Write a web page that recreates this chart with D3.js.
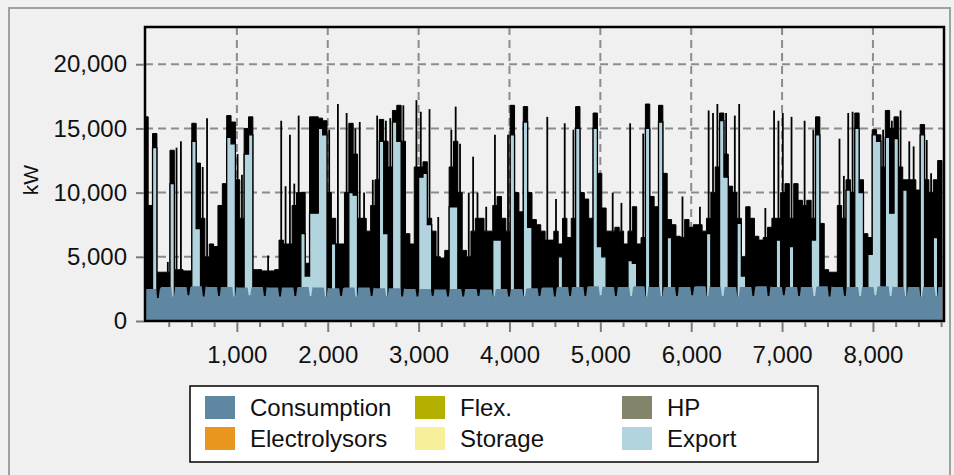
<!DOCTYPE html>
<html>
<head>
<meta charset="utf-8">
<script src="https://cdn.jsdelivr.net/npm/d3@7"></script>
<style>
  body { margin: 0; background: #f0f0f0; }
  svg { display: block; font-family: "Liberation Sans", Arial, sans-serif; }
</style>
</head>
<body>
<svg id="chart" width="954" height="475"></svg>
<script>
// one reading every 2 days (48 h) over the 8760 hours of the year
const STEP_HOURS = 48;

// highest hourly total (consumption + export) in each 2 days, kW
const exportPeak = [
  15900, 9000, 14600, 3800, 3800, 4600, 13300, 13500, 14000, 3900,
  3900, 15400, 12300, 12000, 15800, 6000, 5800, 9000, 10700, 16000,
  15500, 13000, 11400, 15000, 15900, 4000, 4000, 3900, 5100, 3900,
  4000, 15600, 10500, 14500, 10700, 16000, 10000, 4500, 15900, 15900,
  15800, 15600, 14900, 8000, 16900, 6000, 16200, 15400, 15000, 15500,
  10000, 7000, 11000, 16000, 15700, 15600, 15800, 16400, 16800, 16800,
  6800, 6000, 17200, 16300, 12400, 16500, 7000, 8100, 4900, 5500,
  14900, 16700, 13800, 5500, 10000, 12800, 10000, 8000, 8900, 7000,
  14500, 9700, 8000, 14500, 16800, 10000, 8500, 16700, 10000, 7900,
  7500, 7000, 15900, 6300, 9500, 6000, 15400, 6500, 14900, 16700,
  10000, 9500, 8000, 16200, 11500, 8800, 7000, 10000, 7300, 9200,
  6000, 15400, 8900, 6000, 14600, 16900, 9700, 8900, 16800, 11500,
  7900, 7500, 6600, 9700, 7900, 7300, 7500, 8900, 7000, 16400,
  16200, 16900, 16200, 16200, 10500, 16000, 16900, 5000, 8900, 8000,
  6600, 6300, 8800, 7300, 16400, 15600, 16200, 10700, 15900, 10700,
  9400, 15600, 9400, 14900, 15900, 7600, 4000, 3800, 3800, 14200,
  11300, 16200, 16300, 16200, 11000, 6800, 6500, 14900, 14500, 14900,
  16400, 15600, 15900, 16400, 11000, 14000, 13600, 10200, 15300, 14100,
  11500, 11000, 12500
];

// top of the dense daily swing (solid black mass), kW
const exportBand = [
  15900, 9000, 14600, 3800, 3800, 3800, 13300, 4000, 4000, 3900,
  3900, 15400, 12300, 8000, 5000, 6000, 5800, 9000, 10700, 16000,
  15500, 11000, 8000, 15000, 15900, 4000, 4000, 3900, 3900, 3900,
  4000, 6300, 6000, 6000, 9000, 10000, 10000, 4500, 15900, 15900,
  15800, 15600, 10000, 8000, 6000, 6000, 10000, 15400, 13000, 8000,
  8000, 7000, 9000, 11000, 15700, 14000, 12000, 16400, 16800, 14000,
  6800, 6000, 12000, 12000, 12400, 8000, 7000, 5000, 4900, 5500,
  12000, 14000, 10000, 5500, 5000, 7000, 8000, 8000, 7000, 7000,
  9000, 9700, 8000, 7000, 16800, 10000, 8500, 16700, 10000, 7900,
  7500, 7000, 6300, 6300, 7000, 6000, 8000, 6500, 8000, 16700,
  10000, 9500, 8000, 16200, 11500, 8800, 7000, 7000, 7300, 7000,
  6000, 7000, 8900, 6000, 6500, 16900, 9700, 8900, 16800, 11500,
  7900, 7500, 6600, 6500, 7900, 7300, 7500, 7500, 7000, 8000,
  10000, 12000, 16200, 13000, 10500, 10000, 8000, 5000, 8900, 8000,
  6600, 6300, 6500, 7300, 8000, 8000, 10000, 10700, 8000, 10700,
  9400, 9000, 9400, 8000, 15900, 7600, 4000, 3800, 3800, 9000,
  8000, 11000, 10000, 16200, 11000, 6800, 6500, 14900, 14500, 12000,
  16400, 15000, 15900, 12000, 11000, 11000, 11000, 10200, 15300, 11000,
  10000, 11000, 12500
];

// level held for the whole 2 days (export fill visible below it), kW; 0 = line drops to consumption
const exportLow = [
  0, 0, 13500, 0, 0, 0, 10700, 0, 0, 0,
  0, 14000, 7200, 0, 0, 0, 0, 0, 0, 14300,
  13800, 0, 0, 13000, 14500, 0, 0, 0, 0, 0,
  0, 0, 0, 0, 0, 0, 6800, 3500, 8400, 8400,
  15000, 14500, 0, 6000, 0, 0, 0, 10000, 9800, 0,
  0, 0, 0, 0, 14000, 6800, 0, 15500, 14000, 0,
  0, 0, 0, 11200, 11500, 7500, 0, 0, 0, 0,
  8900, 8900, 0, 0, 0, 0, 0, 0, 0, 0,
  6300, 6300, 0, 0, 14500, 0, 0, 15500, 7300, 0,
  0, 0, 0, 0, 0, 5000, 0, 0, 0, 15000,
  0, 0, 0, 15000, 5800, 5000, 0, 0, 0, 0,
  0, 4700, 4500, 0, 0, 15000, 0, 0, 15500, 0,
  6500, 0, 0, 0, 0, 0, 0, 0, 0, 6800,
  0, 0, 15600, 11200, 0, 0, 7600, 3500, 0, 0,
  0, 0, 0, 0, 0, 6300, 0, 0, 5800, 0,
  0, 0, 0, 6300, 14500, 0, 0, 0, 0, 0,
  0, 10200, 0, 15000, 10000, 0, 5200, 14500, 14000, 0,
  14300, 8400, 14200, 0, 10200, 0, 0, 0, 14500, 0,
  0, 6500, 0
];

// consumption per week, kW (working days and weekend dip)
const consWeekday = [
  2500, 2650, 2650, 2700, 2650, 2650, 2600, 2650, 2600, 2600,
  2650, 2600, 2550, 2600, 2600, 2550, 2550, 2500, 2500, 2450,
  2500, 2500, 2450, 2500, 2500, 2550, 2600, 2650, 2650, 2700,
  2650, 2650, 2700, 2650, 2650, 2650, 2700, 2650, 2650, 2650,
  2700, 2650, 2650, 2650, 2700, 2650, 2650, 2650, 2700, 2650,
  2650, 2650, 2650
];
const consWeekend = [
  1800, 1900, 2000, 1900, 1950, 1900, 2000, 1950, 1900, 1950,
  1950, 1900, 1950, 1900, 1950, 1950, 1900, 1900, 1950, 1900,
  1900, 1950, 1900, 1900, 1950, 1950, 1900, 1950, 1950, 2000,
  1950, 1950, 1900, 1950, 1950, 2000, 1950, 1950, 1900, 1950,
  1950, 2000, 1950, 1950, 1900, 1950, 1950, 2000, 1950, 1950,
  1900, 1950, 1950
];

const xTicks = [1000, 2000, 3000, 4000, 5000, 6000, 7000, 8000];
const xMinorTicks = d3.range(250, 8760, 250).filter((d) => d % 1000 !== 0);
const yTicks = [0, 5000, 10000, 15000, 20000];

const legendNames = ["Consumption", "Electrolysors", "Flex.", "Storage", "HP", "Export"];
const legendColors = ["#5f87a1", "#e8961e", "#b4b000", "#f7ef9a", "#84846a", "#b2d4de"];

const svg = d3.select("#chart");

// outer panel border
svg.append("rect")
  .attr("x", 9).attr("y", 8).attr("width", 941).attr("height", 480)
  .attr("fill", "#f0f0f0").attr("stroke", "#a0a0a0").attr("stroke-width", 2);

const plot = { left: 145, right: 944, top: 27, bottom: 321 };

const x = d3.scaleLinear().domain([0, 8760]).range([plot.left + 1, plot.right - 2]);
const y = d3.scaleLinear().domain([0, 22900]).range([plot.bottom, plot.top]);

// grid
const grid = svg.append("g").attr("stroke", "#8c8c8c").attr("stroke-width", 2)
  .attr("stroke-dasharray", "8,5");
grid.selectAll(".gx").data(xTicks).join("line")
  .attr("x1", (d) => x(d)).attr("x2", (d) => x(d))
  .attr("y1", plot.top).attr("y2", plot.bottom);
grid.selectAll(".gy").data(yTicks.filter((d) => d > 0)).join("line")
  .attr("x1", plot.left).attr("x2", plot.right)
  .attr("y1", (d) => y(d)).attr("y2", (d) => y(d));

// export series, one point per 2-day reading
const samples = exportPeak.map((peak, i) => ({
  h: i * STEP_HOURS, peak: peak, band: exportBand[i], lo: exportLow[i]
}));
const last = samples[samples.length - 1];
const edgeSamples = samples.concat([{ h: 8760, peak: last.peak, band: last.band, lo: last.lo }]);

const dataLayer = svg.append("g");

// solid mass of the daily swing
dataLayer.append("path")
  .datum(edgeSamples)
  .attr("fill", "#000")
  .attr("stroke", "#000")
  .attr("stroke-width", 1)
  .attr("d", d3.area().curve(d3.curveStep)
    .x((d) => x(d.h)).y0(y(0)).y1((d) => y(d.band)));

// single-hour peaks as thin lines
dataLayer.selectAll(".peak")
  .data(samples.filter((d) => d.peak > d.band))
  .join("line")
  .attr("class", "peak")
  .attr("x1", (d) => x(d.h)).attr("x2", (d) => x(d.h))
  .attr("y1", (d) => y(d.band)).attr("y2", (d) => y(d.peak))
  .attr("stroke", "#000")
  .attr("stroke-width", 1.8);

// sustained export shows as light blue fill
dataLayer.append("path")
  .datum(edgeSamples)
  .attr("fill", legendColors[5])
  .attr("stroke", "#000")
  .attr("stroke-width", 1.3)
  .attr("d", d3.area().curve(d3.curveStep)
    .x((d) => x(d.h)).y0(y(0)).y1((d) => y(d.lo)));

// consumption: working-day level with weekend dip each week
const cons = [];
consWeekday.forEach((v, w) => {
  const h0 = w * 168;
  cons.push({ h: h0, v: v });
  cons.push({ h: h0 + 110, v: v });
  cons.push({ h: h0 + 122, v: consWeekend[w] });
  cons.push({ h: h0 + 140, v: consWeekend[w] });
  cons.push({ h: h0 + 152, v: v });
});
const consData = cons.filter((d) => d.h <= 8760);
consData.push({ h: 8760, v: consWeekday[consWeekday.length - 1] });

dataLayer.append("path")
  .datum(consData)
  .attr("fill", legendColors[0])
  .attr("d", d3.area().x((d) => x(d.h)).y0(y(0)).y1((d) => y(d.v)));

// plot frame
svg.append("rect")
  .attr("x", plot.left).attr("y", plot.top)
  .attr("width", plot.right - plot.left).attr("height", plot.bottom - plot.top)
  .attr("fill", "none").attr("stroke", "#000").attr("stroke-width", 2.5);

// x axis
const xMinor = svg.append("g").attr("transform", `translate(0,${plot.bottom + 1})`)
  .call(d3.axisBottom(x).tickValues(xMinorTicks).tickSize(5).tickFormat(""));
const xMajor = svg.append("g").attr("transform", `translate(0,${plot.bottom + 1})`)
  .call(d3.axisBottom(x).tickValues(xTicks).tickSize(10).tickPadding(14)
    .tickFormat(d3.format(",")));

// y axis
const yAxis = svg.append("g").attr("transform", `translate(${plot.left - 1},0)`)
  .call(d3.axisLeft(y).tickValues(yTicks).tickSize(8).tickPadding(9)
    .tickFormat(d3.format(",")));

[xMinor, xMajor, yAxis].forEach((g) => {
  g.select(".domain").remove();
  g.selectAll(".tick line").attr("stroke", "#7a7a7a").attr("stroke-width", 2);
  g.selectAll("text").attr("font-size", 24).attr("fill", "#111")
    .attr("font-family", "Liberation Sans, Arial, sans-serif");
});

// y label
svg.append("text")
  .attr("transform", "translate(38,180) rotate(-90)")
  .attr("text-anchor", "middle")
  .attr("font-size", 21)
  .attr("fill", "#111")
  .text("kW");

// legend
const legend = svg.append("g");
legend.append("rect")
  .attr("x", 190).attr("y", 386).attr("width", 628).attr("height", 76)
  .attr("fill", "#fff").attr("stroke", "#000").attr("stroke-width", 1.5);

const colX = [205, 415, 622];
const rowY = [396, 427];
legendNames.forEach((name, i) => {
  const cx = colX[Math.floor(i / 2)];
  const ry = rowY[i % 2];
  legend.append("rect")
    .attr("x", cx).attr("y", ry).attr("width", 30).attr("height", 23)
    .attr("fill", legendColors[i]);
  legend.append("text")
    .attr("x", cx + 45).attr("y", ry + 20)
    .attr("font-size", 24).attr("fill", "#111")
    .text(name);
});
</script>
</body>
</html>
